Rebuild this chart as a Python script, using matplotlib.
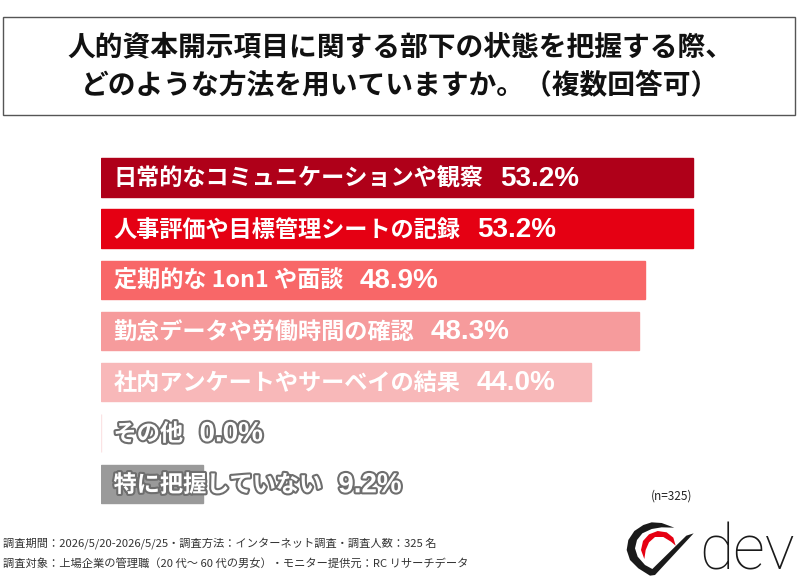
import matplotlib
matplotlib.use("Agg")
import matplotlib.pyplot as plt
import matplotlib.patheffects as pe
from matplotlib.patches import Rectangle, Polygon

plt.rcParams['font.family'] = ['Noto Sans CJK JP', 'DejaVu Sans']

# data
labels = ['日常的なコミュニケーションや観察', '人事評価や目標管理シートの記録', '定期的な 1on1 や面談',
          '勤怠データや労働時間の確認', '社内アンケートやサーベイの結果', 'その他', '特に把握していない']
values = [53.2, 53.2, 48.9, 48.3, 44.0, 0.0, 9.2]
colors = ['#AF0019', '#E50013', '#F86768', '#F69B9C', '#F8B8B9', '#FBE3E4', '#9A9A9A']
outlined = [False, False, False, False, False, True, True]

title = '人的資本開示項目に関する部下の状態を把握する際、\nどのような方法を用いていますか。（複数回答可）'
note_n = '(n=325)'
footnotes = ['調査期間：2026/5/20-2026/5/25・調査方法：インターネット調査・調査人数：325 名',
             '調査対象：上場企業の管理職（20 代～ 60 代の男女）・モニター提供元：RC リサーチデータ']

W, H = 800, 585
fig = plt.figure(figsize=(W / 100, H / 100), dpi=100)

def fx(x):
    return x / W

def fy(y):
    return 1 - y / H

# title box
fig.patches.append(Rectangle((fx(3), fy(115)), fx(792), 98 / H, transform=fig.transFigure,
                             facecolor='white', edgecolor='#555555', linewidth=1.0))
fig.text(0.5, fy(66.5), title, ha='center', va='center', fontsize=20, fontweight='bold',
         linespacing=1.5, color='#111111')

# bars
ax = fig.add_axes([fx(101), fy(509.5), 668 / W, 357.5 / H])
y = list(range(len(labels)))
ax.barh(y, values, height=0.75, color=colors, edgecolor=colors, linewidth=1)
ax.set_xlim(0, 60)
ax.set_ylim(len(labels) - 0.5, -0.5)
ax.axis('off')

for i in y:
    t = ax.annotate(labels[i], xy=(0, i), xytext=(9, -1), textcoords='offset points',
                    va='center', ha='left', fontsize=16.7, fontweight='bold', color='white')
    n = ax.annotate('{:.1f}%'.format(values[i]), xy=(1, 0.5), xycoords=t, xytext=(12, 0),
                    textcoords='offset points', va='center', ha='left', fontsize=20,
                    family='Liberation Sans', fontweight='bold', color='white')
    if outlined[i]:
        t.set_path_effects([pe.withStroke(linewidth=3, foreground='#6E6E6E')])
        n.set_path_effects([pe.withStroke(linewidth=3, foreground='#6E6E6E')])

fig.text(fx(672), fy(496), note_n, ha='center', va='center', fontsize=8.5, color='#222222')

fig.text(fx(3), fy(543), footnotes[0], ha='left', va='center', fontsize=8.1, color='#333333')
fig.text(fx(3), fy(563), footnotes[1], ha='left', va='center', fontsize=8.1, color='#333333')

# logo (zoom coords -> pixels)
def lp(x, yy):
    return (fx(615 + x / 3), fy(515 + yy / 3))

black = [(178, 38), (140, 24), (110, 22), (85, 30), (58, 48), (40, 75), (35, 105), (45, 135),
         (70, 160), (105, 182), (120, 180), (236, 55), (214, 62), (112, 162), (90, 150),
         (68, 125), (60, 100), (66, 75), (82, 55), (110, 42), (140, 37)]
red = [(88, 132), (78, 105), (84, 78), (102, 58), (128, 48), (155, 52), (175, 68), (182, 92),
       (168, 80), (145, 66), (120, 66), (102, 82), (92, 105)]
for pts, c in [(black, '#1A1A1A'), (red, '#E60012')]:
    fig.patches.append(Polygon([lp(a, b) for a, b in pts], closed=True,
                               transform=fig.transFigure, facecolor=c, edgecolor='none'))
fig.text(fx(699), fy(570), 'dev', ha='left', va='baseline', fontsize=45, family='Roboto',
         fontweight='light', color='#1A1A1A')

fig.savefig('out.png', dpi=100)
